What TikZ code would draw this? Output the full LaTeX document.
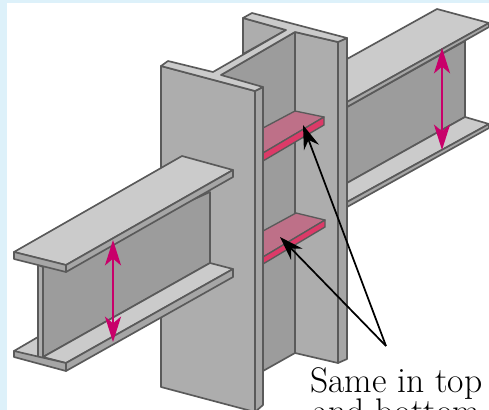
\documentclass[tikz,border=0pt]{standalone}
\usetikzlibrary{arrows.meta}
\definecolor{pale}{HTML}{DDF1FA}
\definecolor{edgegrey}{HTML}{5A5A5A}
\definecolor{topgrey}{HTML}{CBCBCB}
\definecolor{facegrey}{HTML}{ADADAD}
\definecolor{webgrey}{HTML}{9C9C9C}
\definecolor{sidegrey}{HTML}{A6A6A6}
\definecolor{plategrey}{HTML}{BE7088}
\definecolor{platefront}{HTML}{DC3A68}
\definecolor{dimcol}{HTML}{C8006A}
\tikzset{
  part/.style={draw=edgegrey,line width=1.25pt,line join=round},
  topface/.style={part,fill=topgrey},
  flangeface/.style={part,fill=facegrey},
  webface/.style={part,fill=webgrey},
  sideface/.style={part,fill=sidegrey},
  platetop/.style={draw=edgegrey,line width=1pt,line join=round,fill=plategrey},
  plateedge/.style={draw=edgegrey,line width=1pt,line join=round,fill=platefront},
  dimarrow/.style={draw=dimcol,line width=2pt,{Stealth[length=19pt,width=12pt,inset=5pt]}-{Stealth[length=19pt,width=12pt,inset=5pt]}},
  leader/.style={draw=black,line width=1.3pt,-{Stealth[length=18pt,width=12pt,inset=6pt]}},
  caption/.style={inner sep=0pt,anchor=base west,font=\fontsize{26.7}{32}\selectfont}
}
\begin{document}
\begin{tikzpicture}[x=.75pt,y=-.75pt]
\useasboundingbox (0,0) rectangle (489,410);
\clip (0,0) rectangle (489,410);
\fill[white] (0,0) rectangle (489,410);
\fill[pale] (0,0) rectangle (7,410);
\fill[pale] (0,0) rectangle (489,3);
% right beam
\path[webface] (347,107) -- (465,41) -- (465,117) -- (347,183) -- cycle;
\path[topface] (347,183) -- (465,117) -- (489,124) -- (347,202) -- cycle;
\path[sideface] (347,202) -- (489,124) -- (489,128) -- (347,207) -- cycle;
\path[topface] (347,59) -- (437,9) -- (489,23) -- (347,102) -- cycle;
\path[sideface] (347,102) -- (489,23) -- (489,27) -- (347,107) -- cycle;
% column rear flange and web
\path[flangeface] (243,18) -- (286,30) -- (243,54) -- cycle;
\path[webface] (221,75) -- (295,32) -- (295,353) -- (263,371) -- (240,371) -- cycle;
\path[flangeface] (295,32) -- (338,42) -- (338,363) -- (295,353) -- cycle;
\path[sideface] (338,42) -- (347,38) -- (347,359) -- (338,363) -- cycle;
% stiffener plates
\path[platetop] (263,128) -- (295,111) -- (324,117) -- (263,153) -- cycle;
\path[plateedge] (263,153) -- (324,117) -- (324,125) -- (263,161) -- cycle;
\path[platetop] (263,231) -- (296,213) -- (325,220) -- (263,257) -- cycle;
\path[plateedge] (263,257) -- (325,220) -- (325,227) -- (263,264) -- cycle;
% column front flange
\path[flangeface] (161,66) -- (255,91) -- (255,412) -- (161,387) -- cycle;
\path[sideface] (255,91) -- (263,87) -- (263,405) -- (255,412) -- cycle;
\path[part,fill=topgrey] (161,66) -- (168,61) -- (213,72) -- (286,30) -- (243,18) -- (252,13) -- (347,38) -- (338,42) -- (295,32) -- (221,75) -- (263,87) -- (255,91) -- cycle;
% left beam
\path[webface] (43,267) -- (210,192) -- (210,263) -- (43,357) -- cycle;
\path[flangeface] (38,265) -- (43,267) -- (43,360) -- (38,358) -- cycle;
\path[topface] (14,351) -- (38,337) -- (38,358) -- cycle;
\path[topface] (43,357) -- (210,263) -- (233,269) -- (66,363) -- (43,357) -- cycle;
\path[sideface] (14,351) -- (66,363) -- (66,371) -- (14,357) -- cycle;
\path[sideface] (66,363) -- (233,269) -- (233,277) -- (66,371) -- cycle;
\path[topface] (14,252) -- (182,156) -- (233,170) -- (66,265) -- cycle;
\path[sideface] (14,252) -- (66,265) -- (66,272) -- (14,259) -- cycle;
\path[sideface] (66,265) -- (233,170) -- (233,177) -- (66,272) -- cycle;
% dimension arrows
\coordinate (lefttop) at (113,240);
\coordinate (leftbot) at (113,342);
\coordinate (righttop) at (442,48);
\coordinate (rightbot) at (442,150);
\path[dimarrow] (lefttop) -- (leftbot);
\path[dimarrow] (righttop) -- (rightbot);
% caption and leaders
\coordinate (apex) at (386,346);
\coordinate (uppertip) at (303,125);
\coordinate (lowertip) at (280,237);
\path[leader] (apex) -- (uppertip);
\path[leader] (apex) -- (lowertip);
\node[caption] (capa) at (310,392) {Same in top};
\node[caption] (capb) at (312,423) {and bottom};
\end{tikzpicture}
\end{document}
